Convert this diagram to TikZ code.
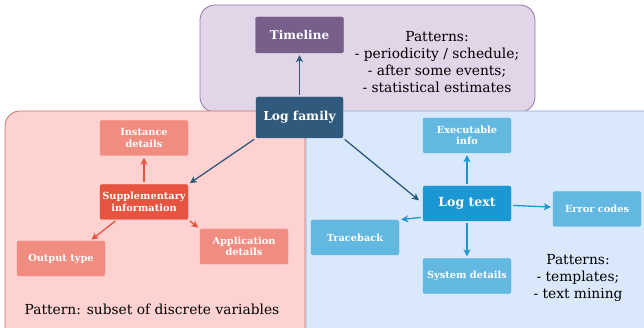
\documentclass[tikz,border=0pt]{standalone}
\usepackage{fontspec}
\setmainfont{DejaVu Serif}
\usetikzlibrary{
  arrows.meta, % for arrow tips
  positioning}
\definecolor{time bg}{HTML}{E1D5E7}
\definecolor{time line}{HTML}{9673A6}
\definecolor{time box}{HTML}{76608A}
\definecolor{disc bg}{HTML}{FFD2D2}
\definecolor{disc line}{HTML}{C4716C}
\definecolor{disc box}{HTML}{E6533F}
\definecolor{disc light}{HTML}{F08C80}
\definecolor{text bg}{HTML}{DAE8FC}
\definecolor{text line}{HTML}{8DA9D4}
\definecolor{text box}{HTML}{1B97D3}
\definecolor{text light}{HTML}{63B8E2}
\definecolor{family box}{HTML}{2F5A7C}
\tikzset{
  region/.style={
    rounded corners=15pt, draw=#1 line, fill=#1 bg, line width=.8pt},
  basic box/.style={
    shape=rectangle, rounded corners=2pt, align=center, draw=#1, fill=#1,
    text=white, minimum width=88pt, minimum height=35pt, inner sep=2pt,
    font=\bfseries\fontsize{9.8}{11.5}\selectfont},
  big box/.style={
    basic box=#1, font=\bfseries\fontsize{12.3}{14}\selectfont},
  pattern note/.style={
    align=center, font=\fontsize{13.8}{17}\selectfont},
  % only the edges get drawn, never the path they hang on
  fat line/.style={
    every edge/.style={draw=#1, line width=1.3pt, ->}}
}

\begin{document}
\begin{tikzpicture}[
  x=1pt, y=-1pt,
  >={Stealth[length=7pt, width=7pt, inset=2pt]},
  shorten >=2pt, shorten <=2pt]

\clip (0,0) rectangle (644,328);

% three groups
\path[region=time] (200,5)   rectangle (535,112);
\path[region=text] (306,111) rectangle (670,345);
\path[region=disc] (5,111)   rectangle (305,345);

% timeline group
\node[big box=time box, minimum height=36pt,
  font=\bfseries\fontsize{12}{14}\selectfont] (timeline) at (299.5,35) {Timeline};
\node[pattern note] (patt-time) at (437,62) {
  Patterns:\\- periodicity / schedule;\\- after some events;\\- statistical estimates};
\node[big box=family box, minimum width=87pt, minimum height=41pt] (logfam)
  at (299.5,117.5) {Log family};

% discrete variables
\node[basic box=disc box]   (supp) at (144,202)   {Supplementary\\information};
\node[basic box=disc light] (inst) at (144,138)   {Instance\\details};
\node[basic box=disc light] (out)  at (61,258.5)  {Output type};
\node[basic box=disc light] (app)  at (244,246.5) {Application\\details};
\node[pattern note] (patt-disc) at (152,309) {Pattern: subset of discrete variables};

% log text
\node[big box=text box, font=\bfseries\fontsize{12.5}{14}\selectfont] (logtxt)
  at (467,203.5) {Log text};
\node[basic box=text light] (exec)  at (467,135.5) {Executable\\info};
\node[basic box=text light] (err)   at (597,209)   {Error codes};
\node[basic box=text light] (trace) at (355,237.5) {Traceback};
\node[basic box=text light] (sys)   at (467,276)   {System details};
\node[pattern note] (patt-txt) at (578,278) {Patterns:\\- templates;\\- text mining};

\path[fat line=family box]
  (logfam) edge (timeline)
  (logfam.south west) edge (supp.north east)
  (logfam.south east) edge[shorten >=5pt] (logtxt.west);

\path[fat line=disc box]
  (supp) edge (inst)
  ([xshift=-27pt]supp.south) edge ([xshift=29pt]out.north)
  (supp.south east) edge (app.north west);

\path[fat line=text box]
  (logtxt) edge (exec)
  (logtxt) edge (err)
  ([yshift=4pt]logtxt.south west) edge (trace.north east)
  (logtxt) edge (sys);
\end{tikzpicture}
\end{document}
